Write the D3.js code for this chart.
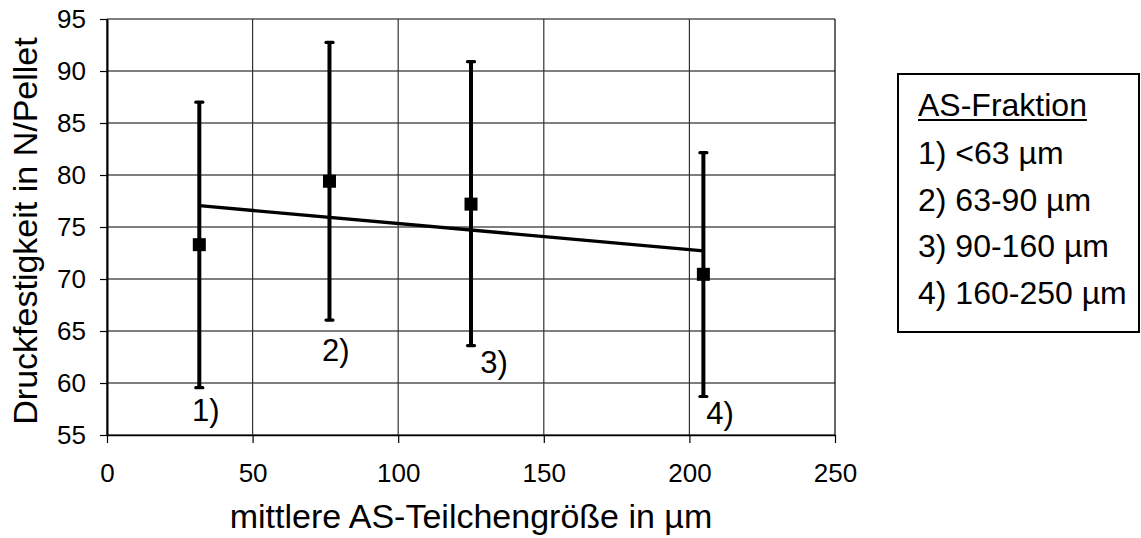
<!DOCTYPE html>
<html>
<head>
<meta charset="utf-8">
<script src="https://cdnjs.cloudflare.com/ajax/libs/d3/7.8.5/d3.min.js"></script>
<style>
  html, body { margin: 0; padding: 0; background: #fff; }
  #container { width: 1141px; height: 538px; }
  text { font-family: "Liberation Sans", Arial, sans-serif; fill: #000; }
</style>
</head>
<body>
<div id="container"></div>
<script>
// data
var sizes = [31.7, 76.4, 125.0, 204.8];          // mittlere Teilchengröße (µm)
var means = [73.3, 79.4, 77.2, 70.45];          // Druckfestigkeit (N/Pellet)
var upper = [87.0, 92.75, 90.9, 82.15];
var lower = [59.55, 66.05, 63.6, 58.7];
var pointLabels = ['1)', '2)', '3)', '4)'];
var labelX = [29.2, 73.8, 128.2, 205.8];         // label anchor, data units
var labelY = [56.3, 62.15, 60.95, 56.1];
var trendX = [31.7, 204.8];
var trendY = [77.05, 72.7];
var xTicks = [0, 50, 100, 150, 200, 250];
var yTicks = [55, 60, 65, 70, 75, 80, 85, 90, 95];
var legendTitle = 'AS-Fraktion';
var legendItems = ['1) <63 µm', '2) 63-90 µm', '3) 90-160 µm', '4) 160-250 µm'];

var margin = { top: 19, left: 107 };
var width = 728, height = 416;

var svg = d3.select('#container').append('svg')
	.attr('width', 1141)
	.attr('height', 538);

var g = svg.append('g')
	.attr('transform', 'translate(' + margin.left + ',' + margin.top + ')');

var x = d3.scaleLinear().domain([0, 250]).range([0, width]);
var y = d3.scaleLinear().domain([55, 95]).range([height, 0]);

// grid
g.selectAll('.hgrid').data(yTicks).enter().append('line')
	.attr('x1', 0).attr('x2', width)
	.attr('y1', function(d) { return y(d); })
	.attr('y2', function(d) { return y(d); })
	.attr('stroke', '#000')
	.attr('stroke-width', 1.2);

g.selectAll('.vgrid').data(xTicks).enter().append('line')
	.attr('x1', function(d) { return x(d); })
	.attr('x2', function(d) { return x(d); })
	.attr('y1', 0).attr('y2', height)
	.attr('stroke', function(d) { return d === 250 ? '#000' : '#333'; })
	.attr('stroke-width', 1.2);

// axes
var yAxis = g.append('g')
	.call(d3.axisLeft(y).tickValues(yTicks).tickSize(7).tickPadding(14).tickSizeOuter(0));
var xAxis = g.append('g')
	.attr('transform', 'translate(0,' + height + ')')
	.call(d3.axisBottom(x).tickValues(xTicks).tickSize(8).tickPadding(21).tickSizeOuter(0));

[xAxis, yAxis].forEach(function(a) {
	a.selectAll('text').style('font-size', '26px').style('font-family', '"Liberation Sans", Arial, sans-serif');
	a.selectAll('.tick line').attr('stroke', '#000').attr('stroke-width', 1.2);
	a.select('.domain').attr('stroke', '#000').attr('stroke-width', 1.6);
});
yAxis.select('.domain').attr('stroke-width', 2);

// trend line
g.append('line')
	.attr('x1', x(trendX[0])).attr('y1', y(trendY[0]))
	.attr('x2', x(trendX[1])).attr('y2', y(trendY[1]))
	.attr('stroke', '#000')
	.attr('stroke-width', 3.4);

// error bars
g.selectAll('.bar').data(sizes).enter().append('line')
	.attr('x1', function(d) { return x(d); })
	.attr('x2', function(d) { return x(d); })
	.attr('y1', function(d, i) { return y(upper[i]); })
	.attr('y2', function(d, i) { return y(lower[i]); })
	.attr('stroke', '#000')
	.attr('stroke-width', 4);

[upper, lower].forEach(function(arr) {
	g.selectAll(null).data(sizes).enter().append('line')
		.attr('x1', function(d) { return x(d) - 3.5; })
		.attr('x2', function(d) { return x(d) + 3.5; })
		.attr('y1', function(d, i) { return y(arr[i]); })
		.attr('y2', function(d, i) { return y(arr[i]); })
		.attr('stroke', '#000')
		.attr('stroke-width', 3.2)
		.attr('stroke-linecap', 'round');
});

// markers
var ms = 13;
g.selectAll('.pt').data(sizes).enter().append('rect')
	.attr('x', function(d) { return x(d) - ms / 2; })
	.attr('y', function(d, i) { return y(means[i]) - ms / 2; })
	.attr('width', ms)
	.attr('height', ms)
	.attr('fill', '#000');

// point labels
g.selectAll('.plabel').data(pointLabels).enter().append('text')
	.attr('x', function(d, i) { return x(labelX[i]); })
	.attr('y', function(d, i) { return y(labelY[i]); })
	.style('font-size', '31px')
	.text(function(d) { return d; });

// axis titles
svg.append('text')
	.attr('x', margin.left + width / 2)
	.attr('y', 528)
	.attr('text-anchor', 'middle')
	.style('font-size', '34px')
	.text('mittlere AS-Teilchengröße in µm');

svg.append('text')
	.attr('transform', 'translate(37,' + (margin.top + height / 2 + 4) + ') rotate(-90)')
	.attr('text-anchor', 'middle')
	.style('font-size', '34px')
	.text('Druckfestigkeit in N/Pellet');

// legend
var lg = svg.append('g');
lg.append('rect')
	.attr('x', 898).attr('y', 74)
	.attr('width', 241).attr('height', 258)
	.attr('fill', '#fff')
	.attr('stroke', '#000')
	.attr('stroke-width', 2);

var lt = lg.append('text')
	.attr('x', 918).attr('y', 116)
	.style('font-size', '32px')
	.text(legendTitle);
var tw = lt.node().getComputedTextLength();
lg.append('line')
	.attr('x1', 918).attr('x2', 918 + tw)
	.attr('y1', 120).attr('y2', 120)
	.attr('stroke', '#000')
	.attr('stroke-width', 2);

lg.selectAll('.li').data(legendItems).enter().append('text')
	.attr('x', 918)
	.attr('y', function(d, i) { return 164 + i * 46.7; })
	.style('font-size', '32px')
	.text(function(d) { return d; });
</script>
</body>
</html>
